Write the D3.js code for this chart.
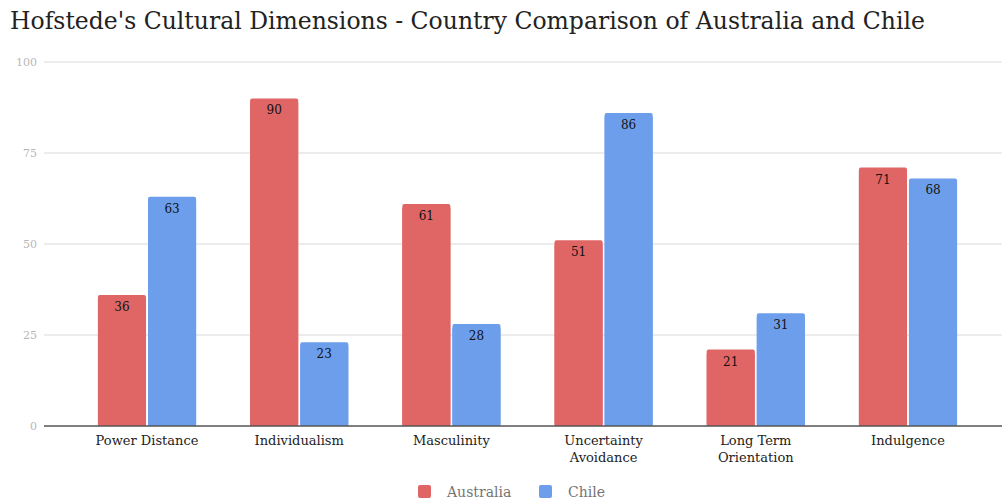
<!DOCTYPE html>
<html><head><meta charset="utf-8">
<script src="https://cdn.jsdelivr.net/npm/d3@7"></script>
<style>body{margin:0;background:#fff}svg{display:block}</style>
</head><body>
<svg id="c" width="1002" height="500"></svg>
<script>
const categories = [["Power Distance"],["Individualism"],["Masculinity"],["Uncertainty","Avoidance"],["Long Term","Orientation"],["Indulgence"]];
const seriesNames = ["Australia","Chile"];
const australia = [36,90,61,51,21,71];
const chile = [63,23,28,86,31,68];
const yTicks = [0,25,50,75,100];
const colors = ["#e06666","#6d9eeb"];
const titleText = "Hofstede's Cultural Dimensions - Country Comparison of Australia and Chile";
const FONT = "'DejaVu Serif', serif";

const svg = d3.select("#c");
const plot = {left:44, right:1002, top:62, bottom:426};

svg.append("text").attr("x",10).attr("y",29).attr("font-family",FONT).attr("font-size",23.5)
  .attr("fill","#222").text(titleText);

const y = d3.scaleLinear().domain([0,100]).range([plot.bottom, plot.top]);
const x0 = d3.scaleBand().domain(categories.map((d,i)=>i)).range([71,984]).paddingInner(0.355).paddingOuter(0.177);
const x1 = d3.scaleBand().domain([0,1]).range([0,x0.bandwidth()]).paddingInner(0.04);

// gridlines
svg.append("g").selectAll("line").data(yTicks.filter(t=>t>0)).join("line")
  .attr("x1",plot.left).attr("x2",plot.right).attr("y1",d=>y(d)).attr("y2",d=>y(d))
  .attr("stroke","#d9d9d9").attr("stroke-width",1);
svg.append("g").selectAll("text").data(yTicks).join("text")
  .attr("x",37).attr("y",d=>y(d)+4).attr("text-anchor","end")
  .attr("font-family",FONT).attr("font-size",11).attr("fill","#b7b7b7").text(d=>d);

const data = categories.map((c,i)=>[australia[i],chile[i]]);
const g = svg.append("g");
data.forEach((vals,i)=>{
  vals.forEach((v,s)=>{
    const bx = x0(i)+x1(s), bw = x1.bandwidth();
    g.append("rect").attr("x",bx).attr("y",y(v)).attr("width",bw).attr("height",y(0)-y(v))
      .attr("rx",2).attr("fill",colors[s]);
    g.append("rect").attr("x",bx).attr("y",y(v)+4).attr("width",bw).attr("height",y(0)-y(v)-4)
      .attr("fill",colors[s]);
    g.append("text").attr("x",bx+bw/2).attr("y",y(v)+16).attr("text-anchor","middle")
      .attr("font-family",FONT).attr("font-size",12).attr("fill","#111").text(v);
  });
});

// baseline
svg.append("line").attr("x1",plot.left).attr("x2",plot.right).attr("y1",plot.bottom).attr("y2",plot.bottom)
  .attr("stroke","#555").attr("stroke-width",1.5);

// category labels
categories.forEach((lines,i)=>{
  const cx = x0(i)+x0.bandwidth()/2;
  const t = svg.append("text").attr("x",cx).attr("y",445).attr("text-anchor","middle")
    .attr("font-family",FONT).attr("font-size",13).attr("fill","#222");
  lines.forEach((l,k)=>t.append("tspan").attr("x",cx).attr("dy",k?17:0).text(l));
});

// legend
const legX = [418,539];
seriesNames.forEach((n,s)=>{
  svg.append("rect").attr("x",legX[s]).attr("y",485).attr("width",13).attr("height",13).attr("rx",2).attr("fill",colors[s]);
  svg.append("text").attr("x",legX[s]+29).attr("y",497).attr("font-family",FONT).attr("font-size",14)
    .attr("fill","#757575").text(n);
});
</script>
</body></html>
